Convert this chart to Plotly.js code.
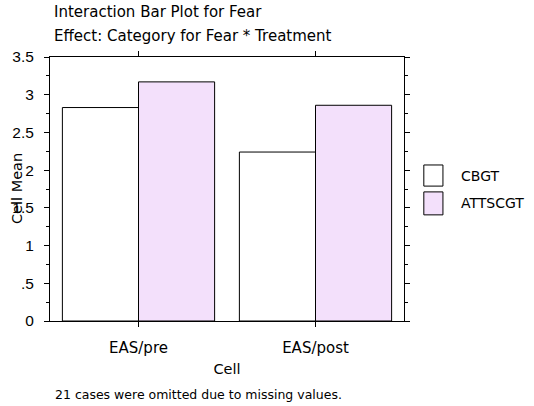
<!DOCTYPE html>
<html><head><meta charset="utf-8">
<script src="https://cdn.plot.ly/plotly-3.0.1.min.js"></script>
<style>body{margin:0;background:#fff}#c{width:534px;height:406px}</style>
</head><body><div id="c"></div>
<script>
const categories = ["EAS/pre", "EAS/post"];
const seriesNames = ["CBGT", "ATTSCGT"];
const cbgt = [2.83, 2.24];
const attscgt = [3.17, 2.86];
const yTickVals = [0, 0.5, 1, 1.5, 2, 2.5, 3, 3.5];
const yTickText = ["0", ".5", "1", "1.5", "2", "2.5", "3", "3.5"];
const seriesColors = ["#ffffff", "#f3e0fb"];

const FAM = "DejaVu Sans, Verdana, sans-serif";
const tfont = {family: FAM, size: 15, color: "#000"};
const traces = [cbgt, attscgt].map((vals, i) => ({
  type: "bar", x: categories, y: vals, name: seriesNames[i],
  marker: {color: seriesColors[i], line: {color: "#000", width: 1}},
  showlegend: false, hoverinfo: "none"
}));

const shapes = [], annotations = [];
const boxTop = [0.591, 0.489], boxBot = [0.511, 0.402];
seriesNames.forEach((n, i) => {
  shapes.push({type: "rect", xref: "paper", yref: "paper",
    x0: 1.056, x1: 1.110, y0: boxBot[i], y1: boxTop[i],
    fillcolor: seriesColors[i], line: {color: "#000", width: 1}});
  annotations.push({xref: "paper", yref: "paper", x: 1.155, y: (boxTop[i] + boxBot[i]) / 2,
    xanchor: "left", yanchor: "middle", text: n, showarrow: false,
    font: {family: FAM, size: 14, color: "#000"}});
});
annotations.push({xref: "paper", yref: "paper", x: 0.008, y: -0.280,
  xanchor: "left", yanchor: "middle", showarrow: false,
  text: "21 cases were omitted due to missing values.", font: {family: FAM, size: 12.5, color: "#000"}});
annotations.push({xref: "paper", yref: "paper", x: 0.006, y: 1.17,
  xanchor: "left", yanchor: "middle", showarrow: false, align: "left",
  text: "Interaction Bar Plot for Fear", font: tfont});
annotations.push({xref: "paper", yref: "paper", x: 0.006, y: 1.08,
  xanchor: "left", yanchor: "middle", showarrow: false, align: "left",
  text: "Effect: Category for Fear * Treatment", font: tfont});
annotations.push({xref: "paper", yref: "paper", x: -0.093, y: 0.50,
  xanchor: "center", yanchor: "middle", showarrow: false, textangle: -90,
  text: "Cell Mean", font: {family: FAM, size: 14.5, color: "#000"}});

const layout = {
  width: 534, height: 406,
  margin: {l: 50, r: 130, t: 57, b: 85, pad: 0},
  paper_bgcolor: "#fff", plot_bgcolor: "#fff",
  barmode: "group", bargap: 0.14, bargroupgap: 0,
  showlegend: false,
  xaxis: {
    range: [-0.5, 1.5], showgrid: false, zeroline: false,
    showline: true, linecolor: "#000", linewidth: 1, mirror: "ticks",
    ticks: "outside", ticklen: 5, tickcolor: "#000", ticklabelstandoff: 8,
    tickfont: {family: FAM, size: 15, color: "#000"},
    title: {text: "Cell", font: {family: FAM, size: 14.5, color: "#000"}, standoff: 7}
  },
  yaxis: {
    range: [0, 3.5], showgrid: false, zeroline: false,
    showline: true, linecolor: "#000", linewidth: 1, mirror: "ticks",
    ticks: "outside", ticklen: 5, tickcolor: "#000", ticklabelstandoff: 7,
    tickvals: yTickVals, ticktext: yTickText,
    minor: {dtick: 0.25, ticks: "outside", ticklen: 3, tickcolor: "#000"},
    tickfont: {family: "Liberation Sans, Arial, sans-serif", size: 15.5, color: "#000"}
  },
  shapes: shapes, annotations: annotations
};
Plotly.newPlot("c", traces, layout, {staticPlot: true});
</script></body></html>
